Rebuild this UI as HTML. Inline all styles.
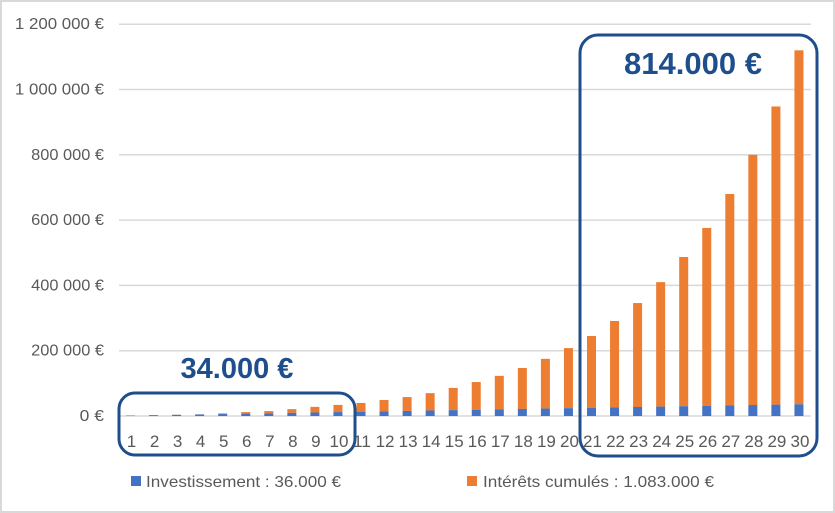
<!DOCTYPE html>
<html><head><meta charset="utf-8"><style>
html,body{margin:0;padding:0;background:#fff}
svg{display:block;font-family:"Liberation Sans",sans-serif}
</style></head><body>
<svg id="chart" width="835" height="513" viewBox="0 0 835 513">
<rect x="1" y="1" width="833" height="511" fill="#fff" stroke="#d9d9d9" stroke-width="2"/>
<g id="grid"></g><g id="bars"></g><g id="xlabels"></g>
<rect x="119" y="393" width="236" height="62" rx="16" fill="none" stroke="#1f4e8c" stroke-width="3"/>
<text x="237" y="378" text-anchor="middle" font-size="29" font-weight="bold" fill="#1f4e8c">34.000 €</text>
<rect x="580" y="35" width="237" height="421" rx="18" fill="none" stroke="#1f4e8c" stroke-width="3"/>
<text x="693" y="74" text-anchor="middle" font-size="31" font-weight="bold" fill="#1f4e8c">814.000 €</text>
<g>
<rect x="131" y="476" width="10" height="10" fill="#4472c4"/>
<text x="146" y="487" font-size="16" fill="#595959" textLength="195" lengthAdjust="spacingAndGlyphs">Investissement : 36.000 €</text>
<rect x="467" y="476" width="10" height="10" fill="#ed7d31"/>
<text x="483" y="487" font-size="16" fill="#595959" textLength="231" lengthAdjust="spacingAndGlyphs">Intérêts cumulés : 1.083.000 €</text>
</g>
</svg>
<script>
const years=[1,2,3,4,5,6,7,8,9,10,11,12,13,14,15,16,17,18,19,20,21,22,23,24,25,26,27,28,29,30];
const invest=[1200,2400,3600,4800,6000,7200,8400,9600,10800,12000,13200,14400,15600,16800,18000,19200,20400,21600,22800,24000,25200,26400,27600,28800,30000,31200,32400,33600,34800,36000];
const totals=[1300,3000,4000,5000,8000,12000,15000,21000,28000,34000,40000,49000,58000,70000,86000,104000,123000,147000,175000,208000,245000,291000,346000,410000,487000,576000,680000,800000,948000,1120000];
const yTicks=[0,200000,400000,600000,800000,1000000,1200000];
const yTickLabels=["0 €","200 000 €","400 000 €","600 000 €","800 000 €","1 000 000 €","1 200 000 €"];
const NS="http://www.w3.org/2000/svg";
const y0=416,pxPer=65.3/200000;
function yScale(v){return y0-v*pxPer;}
function xScale(i){return 130.5+i*23.05;}
const grid=document.getElementById('grid'),bars=document.getElementById('bars'),xl=document.getElementById('xlabels');
yTicks.forEach((t,i)=>{
 const l=document.createElementNS(NS,'line');
 l.setAttribute('x1',119);l.setAttribute('x2',811);
 l.setAttribute('y1',yScale(t));l.setAttribute('y2',yScale(t));
 l.setAttribute('stroke','#d9d9d9');l.setAttribute('stroke-width','1.5');
 
 
 grid.appendChild(l);
 const tx=document.createElementNS(NS,'text');
 tx.setAttribute('x',104);tx.setAttribute('y',yScale(t)+5);
 tx.setAttribute('text-anchor','end');tx.setAttribute('font-size','16');tx.setAttribute('fill','#595959');
 tx.setAttribute('textLength',yTickLabels[i].length*8.1);
 tx.setAttribute('lengthAdjust','spacingAndGlyphs');
 tx.textContent=yTickLabels[i];
 
 
 grid.appendChild(tx);
});
years.forEach((yr,i)=>{
 const cx=xScale(i),w=9;
 const inv=invest[i],tot=totals[i];
 const o=document.createElementNS(NS,'rect');
 o.setAttribute('x',cx-w/2);o.setAttribute('width',w);
 o.setAttribute('y',yScale(tot));o.setAttribute('height',Math.max(0,yScale(inv)-yScale(tot)));
 o.setAttribute('fill','#ed7d31');
 
 
 bars.appendChild(o);
 const b=document.createElementNS(NS,'rect');
 b.setAttribute('x',cx-w/2);b.setAttribute('width',w);
 b.setAttribute('y',yScale(inv));b.setAttribute('height',y0-yScale(inv));
 b.setAttribute('fill','#4472c4');
 
 
 bars.appendChild(b);
 const t=document.createElementNS(NS,'text');
 t.setAttribute('x',cx+1);t.setAttribute('y',447);t.setAttribute('text-anchor','middle');
 t.setAttribute('font-size','17');t.setAttribute('fill','#595959');
 t.textContent=yr;
 
 
 xl.appendChild(t);
});
</script>
</body></html>
